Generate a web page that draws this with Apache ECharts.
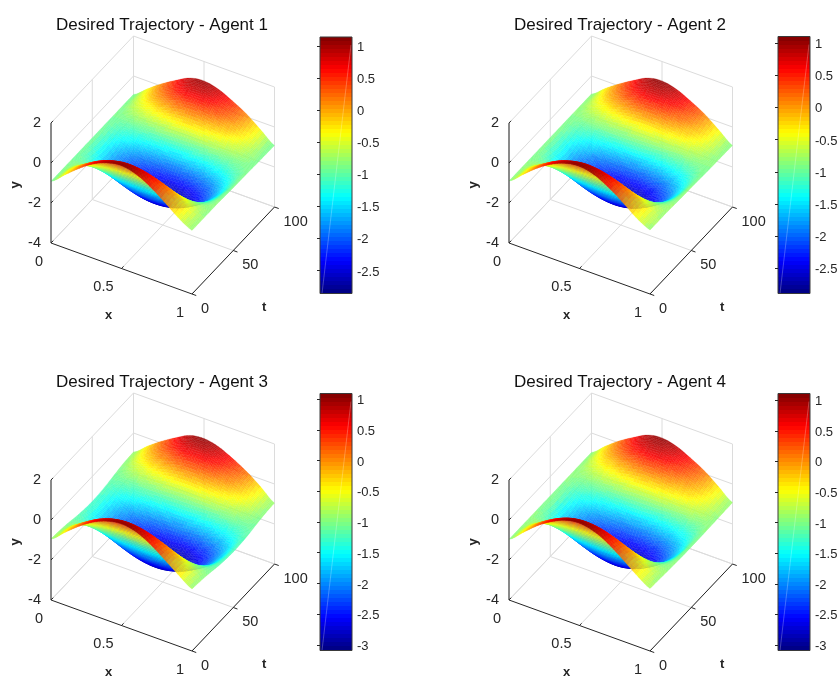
<!DOCTYPE html>
<html><head><meta charset="utf-8">
<style>html,body{margin:0;padding:0;background:#fff}#c{width:837px;height:677px}</style>
<script src="https://cdn.jsdelivr.net/npm/echarts@6/dist/echarts.min.js"></script>
</head><body><div id="c"></div>
<script>
const titles=['Desired Trajectory - Agent 1','Desired Trajectory - Agent 2','Desired Trajectory - Agent 3','Desired Trajectory - Agent 4'];
const xValues=[0,0.1,0.2,0.3,0.4,0.5,0.6,0.7,0.8,0.9,1];
const tValues=[0,10,20,30,40,50,60,70,80,90,100];
const xTicks=[0,0.5,1];
const tTicks=[0,50,100];
const yTicks=[-4,-2,0,2];
const barTicks1=[1,0.5,0,-0.5,-1,-1.5,-2,-2.5];
const barTicks2=[1,0.5,0,-0.5,-1,-1.5,-2,-2.5];
const barTicks3=[1,0.5,0,-0.5,-1,-1.5,-2,-2.5,-3];
const barTicks4=[1,0.5,0,-0.5,-1,-1.5,-2,-2.5,-3];
const limits1=[-2.86,1.145];
const limits2=[-2.89,1.10];
const limits3=[-3.09,1.09];
const limits4=[-3.09,1.11];
// rows: t = 0..100, columns: x = 0..1
const agent1=[
[-.92,-.33,.24,.72,1.02,1.14,.98,.62,.12,-.42,-.82],
[-.92,-.41,.05,.42,.66,.76,.69,.47,.12,-.32,-.82],
[-.92,-.72,-.54,-.39,-.29,-.24,-.26,-.34,-.47,-.63,-.82],
[-.92,-1.10,-1.26,-1.39,-1.47,-1.48,-1.44,-1.34,-1.19,-1.01,-.82],
[-.92,-1.41,-1.85,-2.20,-2.42,-2.48,-2.39,-2.15,-1.78,-1.32,-.84],
[-.92,-1.53,-2.08,-2.51,-2.78,-2.86,-2.75,-2.46,-2.01,-1.44,-.86],
[-.92,-1.41,-1.85,-2.20,-2.42,-2.48,-2.39,-2.15,-1.78,-1.32,-.87],
[-.92,-1.10,-1.26,-1.39,-1.47,-1.48,-1.44,-1.34,-1.19,-1.01,-.88],
[-.92,-.76,-.59,-.44,-.32,-.28,-.32,-.41,-.53,-.70,-.90],
[-.92,-.50,-.07,.28,.58,.67,.55,.28,-.04,-.47,-.91],
[-.92,-.38,.12,.55,.92,1.03,.88,.55,.15,-.38,-.92]];
const agent2=[
[-.90,-.32,.25,.70,1.00,1.10,.96,.60,.12,-.42,-.80],
[-.90,-.40,.05,.42,.65,.75,.68,.46,.11,-.33,-.80],
[-.90,-.71,-.54,-.39,-.30,-.25,-.27,-.35,-.48,-.64,-.80],
[-.90,-1.09,-1.26,-1.39,-1.47,-1.49,-1.45,-1.35,-1.20,-1.02,-.82],
[-.90,-1.40,-1.85,-2.21,-2.43,-2.50,-2.41,-2.16,-1.79,-1.33,-.84],
[-.90,-1.52,-2.09,-2.52,-2.79,-2.89,-2.77,-2.48,-2.03,-1.46,-.85],
[-.90,-1.40,-1.85,-2.21,-2.43,-2.50,-2.41,-2.16,-1.79,-1.33,-.87],
[-.90,-1.09,-1.26,-1.39,-1.47,-1.49,-1.45,-1.35,-1.20,-1.03,-.89],
[-.90,-.74,-.58,-.43,-.32,-.28,-.32,-.41,-.53,-.70,-.90],
[-.90,-.48,-.06,.29,.58,.67,.55,.28,-.04,-.47,-.91],
[-.90,-.36,.12,.55,.92,1.03,.88,.55,.15,-.38,-.92]];
const agent3=[
[-.95,-.36,.20,.66,.96,1.08,.95,.60,.10,-.42,-.90],
[-.98,-.47,-.01,.36,.59,.67,.59,.36,-.00,-.45,-.95],
[-1.05,-.85,-.67,-.52,-.43,-.40,-.43,-.52,-.66,-.84,-1.02],
[-1.15,-1.33,-1.49,-1.62,-1.71,-1.74,-1.71,-1.62,-1.48,-1.31,-1.12],
[-1.22,-1.71,-2.15,-2.50,-2.73,-2.81,-2.73,-2.50,-2.14,-1.69,-1.19],
[-1.25,-1.80,-2.31,-2.71,-2.97,-3.09,-2.97,-2.71,-2.30,-1.78,-1.22],
[-1.22,-1.71,-2.15,-2.50,-2.73,-2.81,-2.73,-2.50,-2.14,-1.69,-1.20],
[-1.15,-1.33,-1.49,-1.62,-1.71,-1.74,-1.71,-1.62,-1.48,-1.32,-1.14],
[-1.05,-.88,-.72,-.58,-.47,-.44,-.48,-.57,-.69,-.87,-1.05],
[-.98,-.54,-.12,.23,.52,.60,.50,.22,-.10,-.52,-.98],
[-.95,-.40,.10,.53,.90,1.00,.86,.53,.13,-.38,-.95]];
const agent4=[
[-.97,-.37,.22,.68,1.00,1.11,.97,.62,.12,-.42,-.88],
[-.97,-.45,.02,.39,.63,.71,.63,.39,.02,-.45,-.90],
[-.97,-.77,-.59,-.45,-.36,-.33,-.36,-.45,-.59,-.77,-.93],
[-.97,-1.17,-1.35,-1.49,-1.58,-1.61,-1.58,-1.49,-1.35,-1.17,-.95],
[-.97,-1.49,-1.96,-2.33,-2.57,-2.65,-2.57,-2.33,-1.96,-1.49,-.97],
[-.97,-1.61,-2.19,-2.65,-2.95,-3.09,-2.95,-2.65,-2.19,-1.61,-.97],
[-.97,-1.49,-1.96,-2.33,-2.57,-2.65,-2.57,-2.33,-1.96,-1.49,-.97],
[-.97,-1.17,-1.35,-1.49,-1.58,-1.61,-1.58,-1.49,-1.35,-1.17,-.96],
[-.97,-.80,-.63,-.48,-.36,-.32,-.36,-.45,-.57,-.74,-.95],
[-.97,-.52,-.09,.27,.57,.66,.54,.27,-.05,-.48,-.94],
[-.97,-.40,.12,.55,.92,1.03,.88,.55,.15,-.38,-.93]];

const agents=[agent1,agent2,agent3,agent4];
const limits=[limits1,limits2,limits3,limits4];
const barTicks=[barTicks1,barTicks2,barTicks3,barTicks4];

// layout of the four panels
const origins=[[51,243],[509,243],[51,600],[509,600]];
const barBoxes=[[320,37,256.5],[778,36.5,257],[320,393.5,257],[778,393.5,257]];
const titleCentres=[[157,12],[615,12],[157,369],[615,369]];
const BAR_W=32;
const INK='#262626',GRID='#dcdcdc',FONT='"Liberation Sans"';
const FACE_ALPHA=0.88,LEVELS=64,SUBX=5,SUBT=10;

// oblique projection of the 3D box on a plane measured in pixels
const U_X=141,U_T=82.5,V_X=-51,V_T=87,V_Y=120;
const X_MAX=100,Y_MIN=-4,Y_RANGE=6;
const PLANE_W=224,PLANE_UP=207,PLANE_DOWN=52;
function project(x,t,y){
  const s=t/X_MAX,h=(y-Y_MIN)/Y_RANGE;
  return [x*U_X+s*U_T, x*V_X+s*V_T+h*V_Y];
}
function clamp(a){return a<0?0:a>1?1:a;}
function jet(f){
  const c=v=>Math.round(255*clamp(1.5-Math.abs(4*f-v)));
  return 'rgb('+c(3)+','+c(2)+','+c(1)+')';
}
function levelColour(z,lim){
  let k=Math.floor((z-lim[0])/(lim[1]-lim[0])*LEVELS);
  k=Math.max(0,Math.min(LEVELS-1,k));
  return jet((k+0.5)/LEVELS);
}
// smooth shading between the table's nodes (as MATLAB's interpolated surface look)
function cr(p0,p1,p2,p3,u){
  return 0.5*((2*p1)+(-p0+p2)*u+(2*p0-5*p1+4*p2-p3)*u*u+(-p0+3*p1-3*p2+p3)*u*u*u);
}
function at(tb,i,j){
  const a=Math.max(0,Math.min(tb.length-1,i));
  const b=Math.max(0,Math.min(tb[0].length-1,j));
  return tb[a][b];
}
function shade(tb,ti,xi){
  const i=Math.floor(ti),j=Math.floor(xi),u=ti-i,v=xi-j,col=[];
  for(let a=-1;a<=2;a++){
    col.push(cr(at(tb,i+a,j-1),at(tb,i+a,j),at(tb,i+a,j+1),at(tb,i+a,j+2),v));
  }
  return cr(col[0],col[1],col[2],col[3],u);
}
function fineSurface(tb){
  const nt=(tb.length-1)*SUBT,nx=(tb[0].length-1)*SUBX,out=[];
  for(let i=0;i<=nt;i++){
    const row=[];
    for(let j=0;j<=nx;j++) row.push(shade(tb,i/SUBT,j/SUBX));
    out.push(row);
  }
  return out;
}

const option={animation:false,backgroundColor:'#fff',title:[],grid:[],xAxis:[],yAxis:[],series:[]};

agents.forEach(function(tb,n){
  const o=origins[n],lim=limits[n],bar=barBoxes[n];
  const plane=n*2,barIdx=n*2+1;
  option.title.push({text:titles[n],left:titleCentres[n][0],top:titleCentres[n][1],textAlign:'center',
    textStyle:{fontFamily:FONT,fontSize:17,fontWeight:'normal',color:'#111'}});
  option.grid.push({left:o[0],top:o[1]-PLANE_UP,width:PLANE_W,height:PLANE_UP+PLANE_DOWN,show:false});
  option.xAxis.push({gridIndex:plane,type:'value',min:0,max:PLANE_W,show:false});
  option.yAxis.push({gridIndex:plane,type:'value',min:-PLANE_DOWN,max:PLANE_UP,show:false});
  option.grid.push({left:bar[0],top:bar[1],width:BAR_W,height:bar[2],show:false});
  option.xAxis.push({gridIndex:barIdx,type:'value',min:0,max:1,show:false});
  option.yAxis.push({gridIndex:barIdx,type:'value',min:lim[0],max:lim[1],position:'right',z:6,
    axisLine:{show:false},splitLine:{show:false},
    axisTick:{show:true,inside:true,length:3,customValues:barTicks[n],lineStyle:{color:INK,width:1}},
    axisLabel:{show:false}});

  // walls and floor
  const seg=[];
  const top=yTicks[yTicks.length-1],low=yTicks[0];
  const xEnd=xTicks[xTicks.length-1],tEnd=tTicks[tTicks.length-1];
  xTicks.forEach(x=>{seg.push([x,0,low,x,tEnd,low]);seg.push([x,tEnd,low,x,tEnd,top]);});
  tTicks.forEach(t=>{seg.push([0,t,low,xEnd,t,low]);seg.push([0,t,low,0,t,top]);});
  yTicks.forEach(y=>{seg.push([0,0,y,0,tEnd,y]);seg.push([0,tEnd,y,xEnd,tEnd,y]);});
  const inFront=seg.filter(s=>!(s[0]==0&&s[1]==0&&s[3]==xEnd&&s[4]==0));
  option.series.push({type:'custom',silent:true,xAxisIndex:plane,yAxisIndex:plane,clip:false,data:inFront,progressive:0,
    renderItem:function(p,api){
      const s=inFront[p.dataIndex],a=api.coord(project(s[0],s[1],s[2])),b=api.coord(project(s[3],s[4],s[5]));
      return {type:'line',shape:{x1:a[0],y1:a[1],x2:b[0],y2:b[1]},style:{stroke:GRID,lineWidth:1}};
    }});

  // surface, far cells first
  const fine=fineSurface(tb),cells=[];
  for(let j=0;j<xValues.length-1;j++) for(let i=tValues.length-2;i>=0;i--) cells.push([j,i]);
  option.series.push({type:'custom',silent:true,xAxisIndex:plane,yAxisIndex:plane,clip:false,data:cells,progressive:0,
    renderItem:function(p,api){
      const c=cells[p.dataIndex],kids=[];
      for(let b=0;b<SUBX;b++) for(let a=SUBT-1;a>=0;a--){
        const jj=c[0]*SUBX+b,ii=c[1]*SUBT+a;
        const x0=xValues[c[0]]+(xValues[c[0]+1]-xValues[c[0]])*b/SUBX;
        const x1=xValues[c[0]]+(xValues[c[0]+1]-xValues[c[0]])*(b+1)/SUBX;
        const t0=tValues[c[1]]+(tValues[c[1]+1]-tValues[c[1]])*a/SUBT;
        const t1=tValues[c[1]]+(tValues[c[1]+1]-tValues[c[1]])*(a+1)/SUBT;
        const z00=fine[ii][jj],z10=fine[ii][jj+1],z11=fine[ii+1][jj+1],z01=fine[ii+1][jj];
        const pts=[api.coord(project(x0,t0,z00)),api.coord(project(x1,t0,z10)),api.coord(project(x1,t1,z11)),api.coord(project(x0,t1,z01))];
        const col=levelColour((z00+z10+z11+z01)/4,lim);
        kids.push({type:'polygon',shape:{points:pts},style:{fill:col,stroke:col,lineWidth:0.25,opacity:FACE_ALPHA}});
      }
      return {type:'group',children:kids};
    }});

  // axis lines, ticks and labels
  const axisLines=[[0,0,low,xEnd,0,low],[xEnd,0,low,xEnd,tEnd,low],[0,0,low,0,0,top]];
  xTicks.forEach(x=>axisLines.push([x,0,low,x,2.5,low]));
  tTicks.forEach(t=>axisLines.push([xEnd,t,low,xEnd+0.03,t,low]));
  yTicks.forEach(y=>axisLines.push([0,0,y,0,2.5,y]));
  option.series.push({type:'custom',silent:true,xAxisIndex:plane,yAxisIndex:plane,clip:false,data:axisLines,progressive:0,
    renderItem:function(p,api){
      const s=axisLines[p.dataIndex],a=api.coord(project(s[0],s[1],s[2])),b=api.coord(project(s[3],s[4],s[5]));
      return {type:'line',shape:{x1:a[0],y1:a[1],x2:b[0],y2:b[1]},style:{stroke:INK,lineWidth:1}};
    }});
  const labels=[];
  xTicks.forEach(x=>labels.push({p:[x,0,low],text:String(x),dx:-8,dy:18.5,align:'right'}));
  tTicks.forEach(t=>labels.push({p:[xEnd,t,low],text:String(t),dx:9,dy:14.5,align:'left'}));
  yTicks.forEach(y=>labels.push({p:[0,0,y],text:String(y),dx:-10,dy:0,align:'right'}));
  labels.push({p:[0.5,0,low],text:'x',dx:-13,dy:47,align:'center',bold:true});
  labels.push({p:[xEnd,50,low],text:'t',dx:31,dy:57,align:'center',bold:true});
  labels.push({p:[0,0,-1],text:'y',dx:-36,dy:2,align:'center',bold:true,rot:true});
  option.series.push({type:'custom',silent:true,xAxisIndex:plane,yAxisIndex:plane,clip:false,data:labels.map(l=>l.p),progressive:0,
    renderItem:function(p,api){
      const l=labels[p.dataIndex],a=api.coord(project(l.p[0],l.p[1],l.p[2]));
      return {type:'text',x:a[0]+l.dx,y:a[1]+l.dy,rotation:l.rot?Math.PI/2:0,
        style:{text:l.text,align:l.align,verticalAlign:'middle',fill:INK,
          font:(l.bold?'bold 13px ':'14.5px ')+FONT}};
    }});

  // colour bar
  const bands=[];
  for(let k=0;k<LEVELS;k++) bands.push(k);
  option.series.push({type:'custom',silent:true,xAxisIndex:barIdx,yAxisIndex:barIdx,clip:false,data:bands,progressive:0,
    renderItem:function(p,api){
      const k=bands[p.dataIndex],step=(lim[1]-lim[0])/LEVELS;
      const a=api.coord([0,lim[0]+(k+1)*step]),b=api.coord([1,lim[0]+k*step]);
      const y0=Math.round(a[1]),y1=Math.round(b[1]);
      return {type:'rect',shape:{x:a[0],y:y0,width:b[0]-a[0],height:y1-y0},style:{fill:jet((k+0.5)/LEVELS)}};
    }});
  option.series.push({type:'custom',silent:true,z:5,xAxisIndex:barIdx,yAxisIndex:barIdx,clip:false,data:[0],progressive:0,
    renderItem:function(p,api){
      const a=api.coord([0,lim[1]]),b=api.coord([1,lim[0]]);
      return {type:'group',children:[
        {type:'line',shape:{x1:a[0]+2,y1:b[1],x2:b[0]-1,y2:a[1]+8},style:{stroke:'rgba(255,255,255,0.25)',lineWidth:1}},
        {type:'rect',shape:{x:a[0],y:a[1],width:b[0]-a[0],height:b[1]-a[1]},style:{fill:'none',stroke:'#3a3a3a',lineWidth:1}}
      ]};
    }});
  const tickList=barTicks[n];
  option.series.push({type:'custom',silent:true,z:6,xAxisIndex:barIdx,yAxisIndex:barIdx,clip:false,data:tickList,progressive:0,
    renderItem:function(p,api){
      const v=tickList[p.dataIndex],a=api.coord([1,v]);
      return {type:'text',x:a[0]+5,y:a[1]+1.5,style:{text:String(v),align:'left',verticalAlign:'middle',fill:INK,font:'13px '+FONT}};
    }});
});

const chart=echarts.init(document.getElementById('c'),null,{renderer:'canvas'});
chart.setOption(option);
</script></body></html>
